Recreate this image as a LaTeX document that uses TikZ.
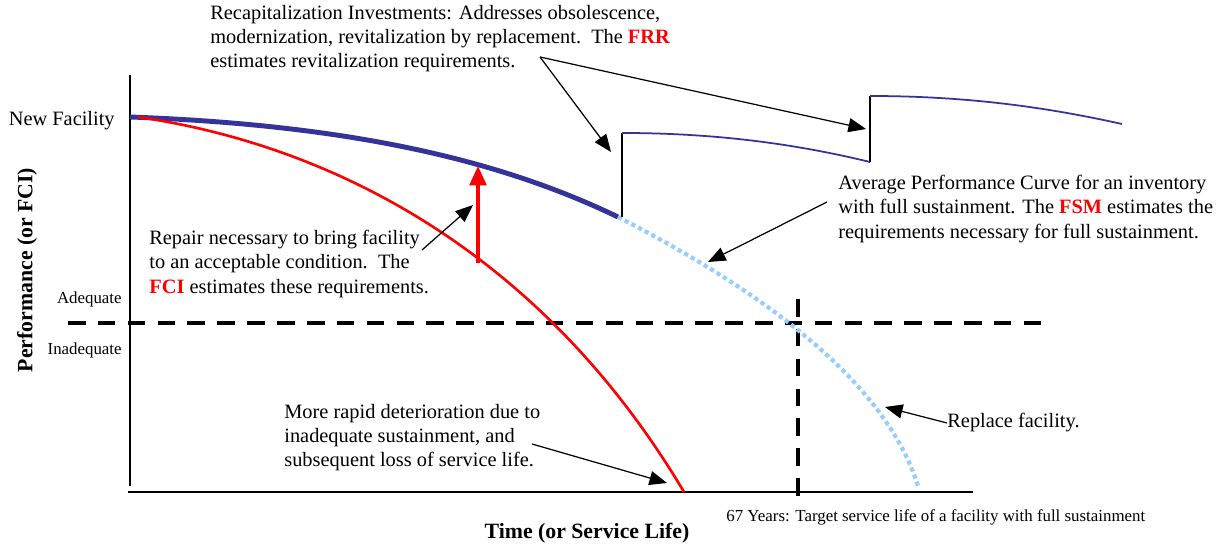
\documentclass[tikz,border=0pt]{standalone}
\usepackage{fontspec}
\setmainfont{Liberation Serif}
\usetikzlibrary{arrows.meta}
\definecolor{navy}{RGB}{51,51,153}
\definecolor{skyblue}{RGB}{153,204,255}
\tikzset{
  note/.style={align=left, anchor=west, inner sep=0pt, font=\fontsize{11.6}{13.7}\selectfont},
  small/.style={inner sep=0pt, font=\fontsize{9.6}{11}\selectfont},
  axislabel/.style={inner sep=0pt, font=\fontsize{12.4}{14}\selectfont\bfseries},
  pointer/.style={-{Triangle[length=10pt,width=8pt]}, line width=0.7pt},
  limit/.style={line width=2.3pt, dash pattern=on 10pt off 7pt},
}
\begin{document}
\begin{tikzpicture}[x=0.02cm, y=-0.02cm]
  \useasboundingbox (0,0) rectangle (1217,546);
  \draw[line width=1.1pt] (130,75) -- (130,486);
  \draw[line width=1.1pt] (128,492) -- (973,492);
  \draw[limit] (68,323) -- (1042,323);
  \draw[limit] (798,299) -- (798,506);

  \coordinate (new) at (130,117);
  \coordinate (knee) at (618,217);
  \coordinate (fail) at (684,492);
  \coordinate (jumpa) at (622,133);
  \coordinate (dropa) at (870,162);
  \coordinate (jumpb) at (870,96);
  \coordinate (endb) at (1122,124);
  \coordinate (worn) at (918,486);

  \draw[navy, line width=2.8pt] (new) .. controls (350,125) and (500,160) .. (knee);
  \draw[skyblue, line width=2.4pt, dash pattern=on 2.4pt off 1.9pt] (knee) .. controls (760,290) and (885,380) .. (worn);
  \draw[red, line width=1.5pt] (138,117) .. controls (330,145) and (540,250) .. (fail);
  \draw[line width=1pt] (622,217) -- (jumpa);
  \draw[navy, line width=1pt] (jumpa) .. controls (720,133) and (800,145) .. (dropa);
  \draw[line width=1pt] (dropa) -- (jumpb);
  \draw[navy, line width=1pt] (jumpb) .. controls (970,96) and (1050,108) .. (endb);

  \coordinate (repairlow) at (478,263);
  \coordinate (repairtop) at (478,166);
  \draw[red, line width=2pt, -{Triangle[length=11pt,width=9.5pt]}] (repairlow) -- (repairtop);

  \node[note] (recap) at (210,39) {Recapitalization Investments: Addresses obsolescence,\\
    modernization, revitalization by replacement.\ \ The \textcolor{red}{\textbf{FRR}}\\
    estimates revitalization requirements.};
  \node[note] (repair) at (149,264) {Repair necessary to bring facility\\
    to an acceptable condition.\ \ The\\
    \textcolor{red}{\textbf{FCI}} estimates these requirements.};
  \node[note] (fsm) at (838,209) {Average Performance Curve for an inventory\\
    with full sustainment. The \textcolor{red}{\textbf{FSM}} estimates the\\
    requirements necessary for full sustainment.};
  \node[note] (rapid) at (284,438) {More rapid deterioration due to\\
    inadequate sustainment, and\\
    subsequent loss of service life.};
  \node[note] (replace) at (947,423) {Replace facility.};
  \node[note, anchor=east] (newfac) at (115,121) {New Facility};
  \node[small, anchor=east] (adequate) at (122,299) {Adequate};
  \node[small, anchor=east] (inadequate) at (122,350) {Inadequate};
  \node[small, anchor=west] (target) at (726,517) {67 Years: Target service life of a facility with full sustainment};
  \node[axislabel, rotate=90] (perf) at (27,270) {Performance (or FCI)};
  \node[axislabel] (time) at (587,533) {Time (or Service Life)};

  \coordinate (recaptail) at (540,57);
  \coordinate (repairtail) at (422,250);
  \coordinate (fsmtail) at (827,202);
  \coordinate (rapidtail) at (532,444);
  \draw[pointer] (recaptail) -- (611,152);
  \draw[pointer] (recaptail) -- (866,129);
  \draw[pointer] (repairtail) -- (473,205);
  \draw[pointer] (fsmtail) -- (708,262);
  \draw[pointer] (rapidtail) -- (667,483);
  \draw[pointer] (replace.west) -- (885,407);
\end{tikzpicture}
\end{document}
